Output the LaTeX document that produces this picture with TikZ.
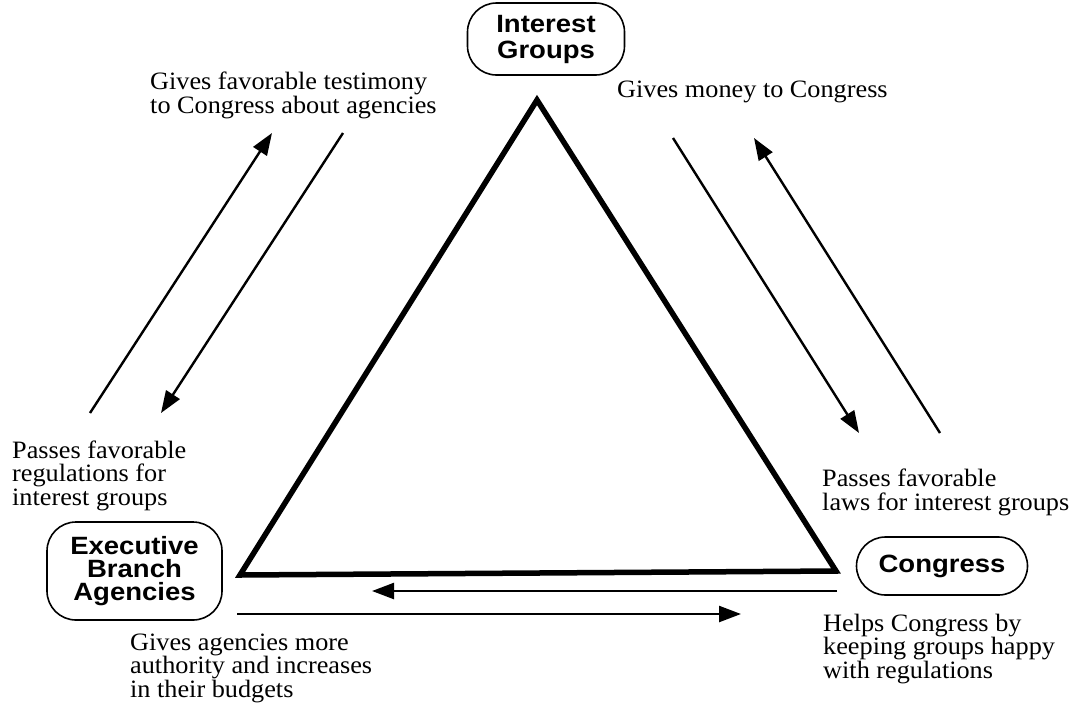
\documentclass[tikz,border=0pt]{standalone}
\usepackage{fontspec}
\setmainfont{Liberation Serif}[FakeStretch=1.05]
\newfontfamily\boxfont{Liberation Sans}[FakeStretch=1.1]
\usetikzlibrary{arrows.meta}
\begin{document}
\begin{tikzpicture}[x=1pt,y=-1pt,
  lbl/.style={anchor=base west,inner sep=0pt,align=left,font=\fontsize{25}{23.5}\selectfont},
  actor/.style={draw,line width=1.6pt,rounded corners=29pt,inner sep=0pt,align=center,
    font=\boxfont\bfseries\fontsize{25}{23}\selectfont},
  flow/.style={line width=2.4pt,-{Triangle[length=22pt,width=16pt]}},
  side/.style={line width=5.5pt,line join=miter}]
\useasboundingbox (0,0) rectangle (1078,702);
% actors
\node[actor,minimum width=157pt,minimum height=72pt,font=\boxfont\bfseries\fontsize{25}{26}\selectfont] (ig) at (546,39) {Interest\\Groups};
\node[actor,minimum width=175pt,minimum height=98pt] (eb) at (134.5,571) {Executive\\Branch\\Agencies};
\node[actor,minimum width=171pt,minimum height=58pt] (cg) at (942,566) {Congress};
% triangle
\coordinate (apex) at (537,100);
\coordinate (bl) at (240,575);
\coordinate (br) at (836,571);
\draw[side] (apex) -- (bl) -- (br) -- cycle;
% arrows
\coordinate (a1s) at (90,413);  \coordinate (a1e) at (272,133);
\coordinate (a2s) at (343,133); \coordinate (a2e) at (161,413);
\coordinate (a3s) at (673,138); \coordinate (a3e) at (859,433);
\coordinate (a4s) at (940,433); \coordinate (a4e) at (754,138);
\coordinate (a5s) at (837,591); \coordinate (a5e) at (372,591);
\coordinate (a6s) at (237,614); \coordinate (a6e) at (741,614);
\draw[flow] (a1s) -- (a1e);
\draw[flow] (a2s) -- (a2e);
\draw[flow] (a3s) -- (a3e);
\draw[flow] (a4s) -- (a4e);
\draw[flow] (a5s) -- (a5e);
\draw[flow] (a6s) -- (a6e);
% labels (anchor = baseline of the last line)
\node[lbl] (t1) at (150,113) {Gives favorable testimony\\to Congress about agencies};
\node[lbl] (t2) at (617,97) {Gives money to Congress};
\node[lbl] (t3) at (12,505) {Passes favorable\\regulations for\\interest groups};
\node[lbl] (t4) at (822,510) {Passes favorable\\laws for interest groups};
\node[lbl] (t5) at (130,697) {Gives agencies more\\authority and increases\\in their budgets};
\node[lbl] (t6) at (823,678) {Helps Congress by\\keeping groups happy\\with regulations};
\end{tikzpicture}
\end{document}
